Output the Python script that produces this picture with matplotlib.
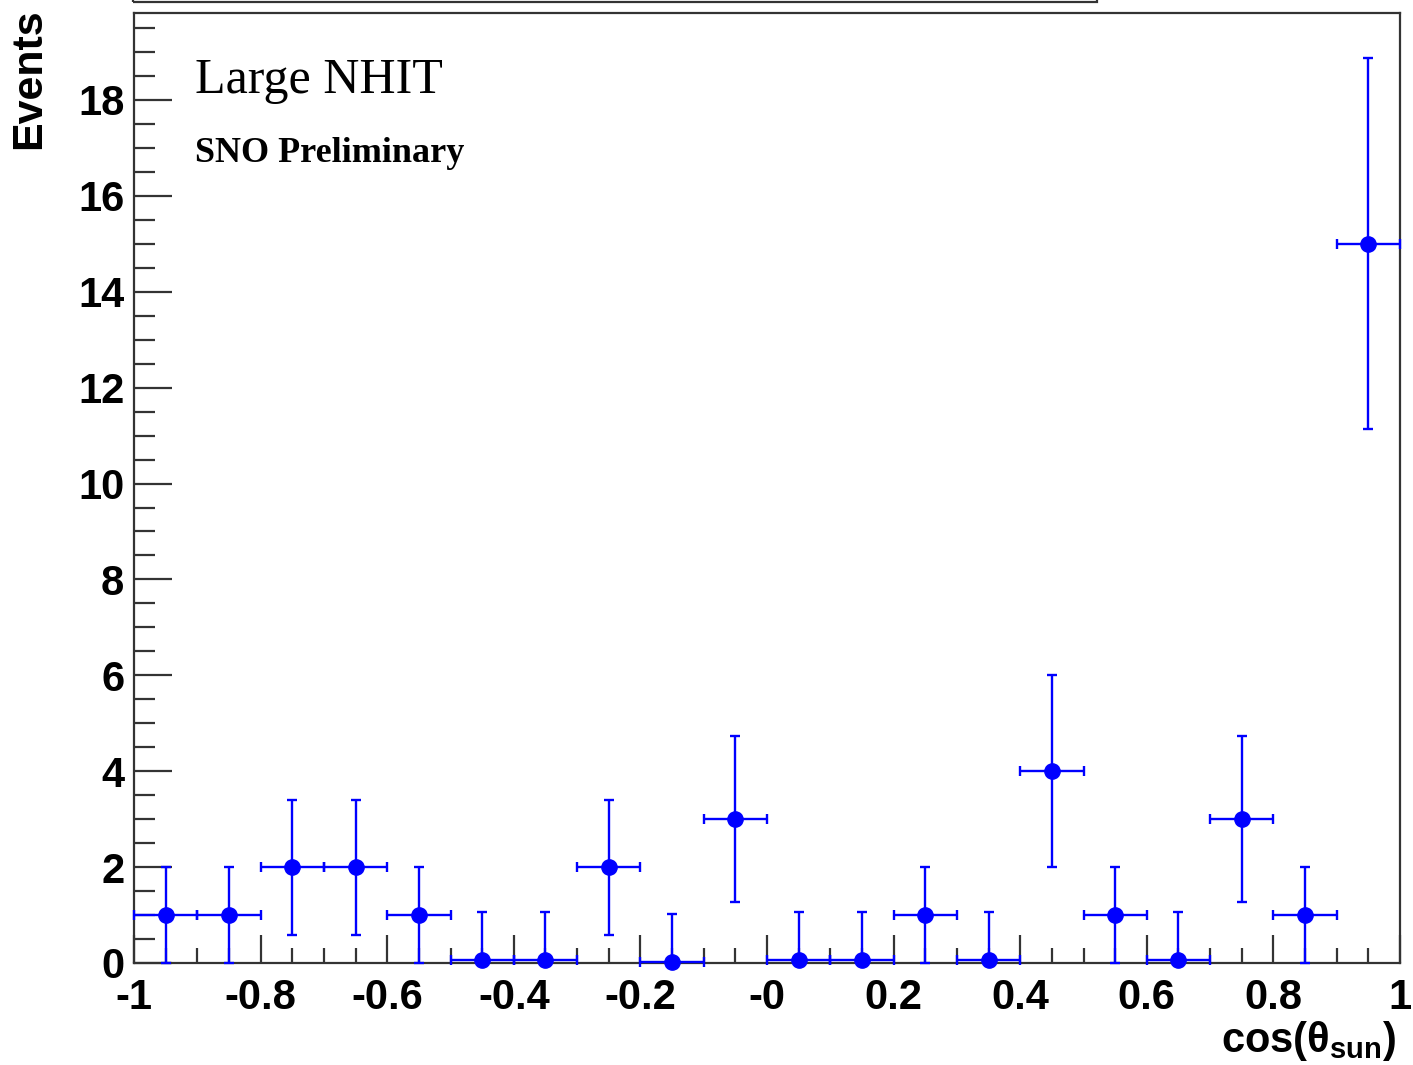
"""
Large NHIT events vs. cos(theta_sun), 20 bins in [-1, 1].
"""
import numpy as np
import matplotlib
matplotlib.use("Agg")
import matplotlib.pyplot as plt
from matplotlib.patches import Rectangle
from matplotlib.ticker import MultipleLocator, FixedLocator, FixedFormatter

# --- Histogram contents ------------------------------------------------
bin_centres = [-0.95, -0.85, -0.75, -0.65, -0.55, -0.45, -0.35, -0.25, -0.15, -0.05,
               0.05, 0.15, 0.25, 0.35, 0.45, 0.55, 0.65, 0.75, 0.85, 0.95]
counts = [1, 1, 2, 2, 1, 0.06, 0.06, 2, 0.02, 3,
          0.06, 0.06, 1, 0.06, 4, 1, 0.06, 3, 1, 15]
err_low = [1, 1, 1.41, 1.41, 1, 0.06, 0.06, 1.41, 0.02, 1.73,
           0.06, 0.06, 1, 0.06, 2, 1, 0.06, 1.73, 1, 3.87]
err_high = [1, 1, 1.41, 1.41, 1, 1.0, 1.0, 1.41, 1.0, 1.73,
            1.0, 1.0, 1, 1.0, 2, 1, 1.0, 1.73, 1, 3.87]
half_width = 0.05

xtick_pos = [-1, -0.8, -0.6, -0.4, -0.2, 0, 0.2, 0.4, 0.6, 0.8, 1]
xtick_lab = ["-1", "-0.8", "-0.6", "-0.4", "-0.2", "-0", "0.2", "0.4", "0.6", "0.8", "1"]
ytick_pos = [0, 2, 4, 6, 8, 10, 12, 14, 16, 18]

x = np.array(bin_centres)
y = np.array(counts)
elo = np.array(err_low)
ehi = np.array(err_high)
ymax = (y + ehi).max() * 1.05

W, H = 1413, 1065
fig = plt.figure(figsize=(W / 100, H / 100), dpi=100)
ax = fig.add_axes([134 / W, 1 - 963 / H, (1400 - 134) / W, (963 - 13) / H])

blue = "#0000ff"
ax.errorbar(x, y, xerr=half_width, yerr=[elo, ehi], fmt="o", color=blue,
            ms=11, lw=1.7, capsize=3.3, capthick=1.7, clip_on=False, zorder=5)

ax.set_xlim(-1, 1)
ax.set_ylim(0, ymax)

frame = "#333333"
for s in ax.spines.values():
    s.set_color(frame)
    s.set_linewidth(1.6)

ax.xaxis.set_major_locator(FixedLocator(xtick_pos))
ax.xaxis.set_major_formatter(FixedFormatter(xtick_lab))
ax.xaxis.set_minor_locator(MultipleLocator(0.05))
ax.yaxis.set_major_locator(FixedLocator(ytick_pos))
ax.yaxis.set_minor_locator(MultipleLocator(0.5))

ax.tick_params(axis="x", which="major", direction="in", length=20, width=1.6,
               color=frame, pad=11, labelsize=30)
ax.tick_params(axis="x", which="minor", direction="in", length=11, width=1.6,
               color=frame)
ax.tick_params(axis="y", which="major", direction="in", length=27, width=1.6,
               color=frame, pad=7, labelsize=30)
ax.tick_params(axis="y", which="minor", direction="in", length=15, width=1.6,
               color=frame)
for lab in ax.get_xticklabels() + ax.get_yticklabels():
    lab.set_fontfamily("Liberation Sans")
    lab.set_fontweight("bold")

# axis titles (ROOT style: right/top aligned)
fig.text(29 / W, 1 - 8 / H, "Events", rotation=90, ha="center", va="top",
         fontsize=31, fontweight="bold", family="Liberation Sans")
fig.text(1396 / W, 1 - 1052 / H, r"cos($\mathregular{\theta_{sun}}$)",
         ha="right", va="baseline", fontsize=30, fontweight="bold",
         family="Liberation Sans")

# labels inside the frame
fig.text(195 / W, 1 - 93 / H, "Large NHIT", ha="left", va="baseline",
         fontsize=36, family="Liberation Serif")
fig.text(195 / W, 1 - 162 / H, "SNO Preliminary", ha="left", va="baseline",
         fontsize=26, fontweight="bold", family="Liberation Serif")

# remains of the title pave at the top edge
fig.patches.append(Rectangle((133 / W, 1 - 2 / H), (1097 - 133) / W, 0.05,
                             transform=fig.transFigure, fill=False,
                             edgecolor=frame, lw=1.6, clip_on=False))

fig.savefig("out.png", dpi=100)
